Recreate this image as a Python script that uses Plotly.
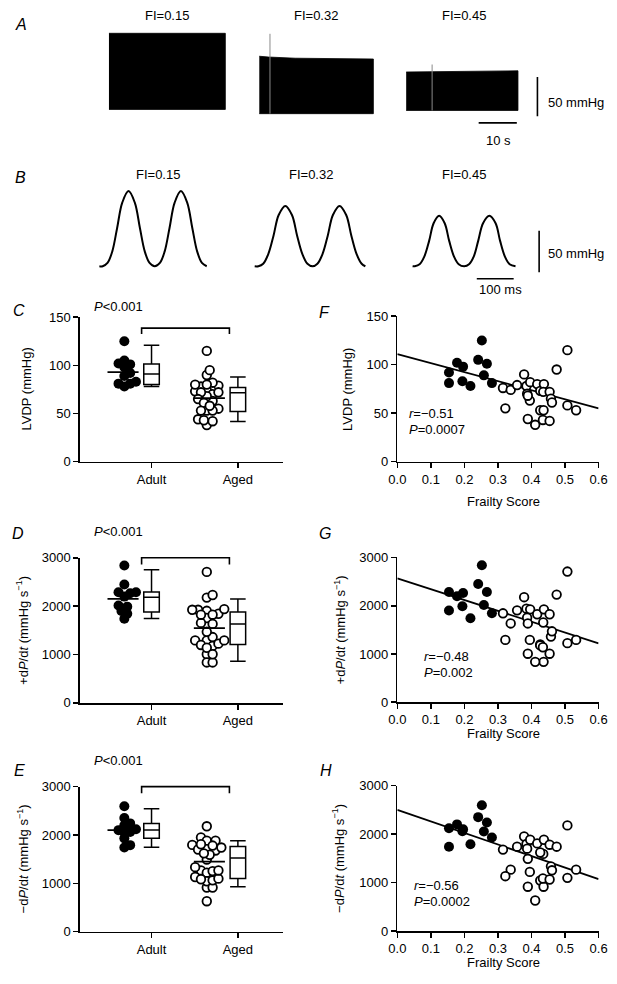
import plotly.graph_objects as go

W, H = 617, 984
FONT = "Liberation Sans, Arial, sans-serif"

# ---------------- DATA ----------------
fi_labels = ["FI=0.15", "FI=0.32", "FI=0.45"]

# Panel A: raw LV pressure recordings, drawn as envelopes (time s, pressure mmHg)
recA_t = [[26.2, 56.7], [65.6, 68.0, 75.0, 85.0, 95.5], [104.1, 112.0, 120.0, 133.4]]
recA_top = [[96.6, 96.6], [67.5, 66.5, 65.0, 64.5, 64.0], [47.5, 48.0, 48.5, 49.0]]
recA_bottom = [[0.0, 0.0], [-5.4, -5.4, -5.4, -5.4, -5.4], [-1.3, -1.3, -1.3, -1.3]]
spikeA_t = [68.4, 110.9]
spikeA_top = [96.0, 57.0]
spikeA_bottom = [-5.4, -1.3]
scaleA = [10, 50]          # s, mmHg

# Panel B: representative beats (time ms from trace start, pressure mmHg)
beat_t = [
    [0, 9, 22, 35, 48, 62, 79, 96, 110, 123, 136, 150, 164, 177, 190, 204, 221, 238, 252, 265, 278, 291],
    [0, 10, 23, 37, 51, 65, 83, 101, 115, 129, 143, 157, 170, 184, 198, 212, 230, 248, 262, 276, 290, 300],
    [0, 6, 19, 32, 45, 57, 72, 87, 99, 112, 125, 140, 153, 166, 178, 191, 208, 225, 237, 250, 263, 279]]
beat_p = [
    [0, 0, 4, 18, 46, 77, 91, 77, 46, 18, 4, 0, 4, 18, 46, 77, 91, 77, 46, 18, 4, 0],
    [0, 0, 3, 15, 37, 62, 73, 62, 37, 15, 3, 0, 3, 15, 37, 62, 73, 62, 37, 15, 3, 0],
    [0, 0, 2.5, 12, 31, 52, 61, 52, 31, 12, 2.5, 0, 2.5, 12, 31, 52, 61, 52, 31, 12, 2.5, 0]]
beat_start = [245, 666, 1094]   # ms
scaleB = [100, 50]              # ms, mmHg

groups = ["Adult", "Aged"]
adult_fi = [0.154, 0.154, 0.178, 0.196, 0.194, 0.218, 0.241, 0.252, 0.258, 0.267, 0.282]
adult_lvdp = [92, 81, 102, 98, 83, 78, 105, 125, 89, 101, 81]
adult_pos = [2286, 1900, 2197, 2265, 1990, 1741, 2449, 2840, 2014, 2286, 1844]
adult_neg = [2120, 1740, 2200, 2100, 2060, 1790, 2350, 2594, 2053, 2240, 1930]

aged_fi = [0.315, 0.338, 0.322, 0.357, 0.378, 0.385, 0.396, 0.387, 0.395, 0.389, 0.389, 0.417, 0.426,
           0.437, 0.435, 0.454, 0.458, 0.461, 0.426, 0.436, 0.411, 0.434, 0.454, 0.475, 0.507, 0.507, 0.533]
aged_lvdp = [76, 74, 55, 79, 90, 78, 82, 70, 63, 44, 68, 80, 73, 80, 72, 72, 65, 61, 53, 53, 38, 43, 42,
             95, 115, 58, 53]
aged_pos = [1843, 1633, 1292, 1904, 2177, 1939, 1925, 1755, 1292, 1006, 1633, 1823, 1198, 1925, 1653, 1823,
            1361, 1470, 1178, 837, 837, 1140, 1006, 2231, 2708, 1225, 1292]
aged_neg = [1680, 1266, 1131, 1740, 1950, 1795, 1883, 1700, 1220, 914, 1490, 1808, 1043, 1883, 1591, 1781,
            1334, 1253, 1620, 914, 630, 1084, 1063, 1740, 2180, 1097, 1266]

# box stats: [lower whisker, q1, median, q3, upper whisker]
boxC = [[78, 80, 91, 101.5, 121], [41.6, 52, 71.6, 77, 88]]
boxD = [[1745, 1880, 2185, 2295, 2750], [863, 1210, 1630, 1880, 2150]]
boxE = [[1745, 1930, 2105, 2235, 2540], [930, 1100, 1525, 1760, 1880]]
meanC = [93, 66]
meanD = [2150, 1545]
meanE = [2100, 1450]
bracketC = [138.7, 132.5]
bracketD = [3000, 2862]
bracketE = [3000, 2865]

fit_x = [0.0, 0.6]
fitF = [111, 55]
fitG = [2565, 1222]
fitH = [2500, 1070]
statsF = ["<i>r</i>=−0.51", "<i>P</i>=0.0007"]
statsG = ["<i>r</i>=−0.48", "<i>P</i>=0.002"]
statsH = ["<i>r</i>=−0.56", "<i>P</i>=0.0002"]

# ---------------- HELPERS ----------------
def xdom(l, r):
    return [l / W, r / W]

def ydom(top, bot):
    return [1 - bot / H, 1 - top / H]

fig = go.Figure()
annotations = []

def ann(text, px, py, size=13, xanchor="center", italic=False, angle=0):
    if italic:
        text = "<i>" + text + "</i>"
    annotations.append(dict(text=text, x=px / W, y=1 - py / H, xref="paper", yref="paper",
                            xanchor=xanchor, yanchor="middle", showarrow=False, textangle=angle,
                            font=dict(family=FONT, size=size, color="black")))

def line(xs, ys, ax, width=1.6, color="black", shape="linear"):
    fig.add_trace(go.Scatter(x=xs, y=ys, mode="lines", xaxis="x" + ax, yaxis="y" + ax,
                             line=dict(color=color, width=width, shape=shape, smoothing=1.0),
                             hoverinfo="skip", showlegend=False))

def swarm(vals, center, ypu, xpu=89.0, d=6.0):
    idx = sorted(range(len(vals)), key=lambda i: vals[i])
    placed = []
    xs = [0.0] * len(vals)
    cands = [0]
    for s in range(1, 30):
        cands += [s, -s]
    for i in idx:
        yp = vals[i] * ypu
        off = 0.0
        for c in cands:
            off = c * d * 0.5
            if all((off - xo) ** 2 + (yp - yo) ** 2 >= (d * 0.95) ** 2 for xo, yo in placed):
                break
        placed.append((off, yp))
        xs[i] = center + off / xpu
    return xs

axis_common = dict(showline=True, linecolor="black", linewidth=1.6, ticks="outside", ticklen=5,
                   tickwidth=1.6, tickcolor="black", showgrid=False, zeroline=False,
                   ticklabeloverflow="allow",
                   tickfont=dict(family=FONT, size=13, color="black"), fixedrange=True)
hidden = dict(visible=False, showgrid=False, zeroline=False, fixedrange=True)
layout_axes = {}

# ---------------- PANEL A ----------------
for t, top, bot in zip(recA_t, recA_top, recA_bottom):
    fig.add_trace(go.Scatter(x=t + t[::-1], y=top + bot[::-1], mode="lines", fill="toself",
                             fillcolor="black", line=dict(color="black", width=0.8),
                             xaxis="x", yaxis="y", hoverinfo="skip", showlegend=False))
for t, a, b in zip(spikeA_t, spikeA_top, spikeA_bottom):
    line([t, t], [a, b], "", width=1.0, color="#8a8a8a")
line([138.5, 138.5], [-8.75, -8.75 + scaleA[1]], "", width=1.6)
line([133.1 - scaleA[0], 133.1], [-17.1, -17.1], "", width=1.6)
layout_axes["xaxis"] = dict(domain=[0, 1], range=[0, W / 3.93], anchor="y", **hidden)
layout_axes["yaxis"] = dict(domain=ydom(0, 150), range=[-57.5, 130], anchor="x", **hidden)

# ---------------- PANEL B ----------------
for t, p, s in zip(beat_t, beat_p, beat_start):
    line([s + v for v in t], p, "2", width=2.0, shape="spline")
line([1437, 1437], [-7.1, -7.1 + scaleB[1]], "2", width=1.6)
line([1268, 1268 + scaleB[0]], [-15.1, -15.1], "2", width=1.6)
layout_axes["xaxis2"] = dict(domain=[0, 1], range=[0, W / 0.38], anchor="y2", **hidden)
layout_axes["yaxis2"] = dict(domain=ydom(160, 292), range=[-34.2, 123], anchor="x2", **hidden)

# ---------------- PANELS C, D, E (dot + box) ----------------
dot_specs = [
    ("3", "9", 315.0, 461.7, 150, [0, 50, 100, 150], adult_lvdp, aged_lvdp, boxC, meanC, bracketC),
    ("4", "10", 559.3, 706.7, 3000, [0, 1000, 2000, 3000], adult_pos, aged_pos, boxD, meanD, bracketD),
    ("5", "11", 791.7, 939.0, 3000, [0, 1000, 2000, 3000], adult_neg, aged_neg, boxE, meanE, bracketE),
]
dot_centers = [0.685, 1.64]
mean_centers = [0.67, 1.67]
for ax, bax, top, bot, ymax, ytv, adv, agv, box, mean, br in dot_specs:
    ypu = (bot - top) / ymax
    for k, (vals, filled) in enumerate([(adv, True), (agv, False)]):
        xs = swarm(vals, dot_centers[k], ypu)
        st = box[k]
        fig.add_trace(go.Box(x=[1 + k], lowerfence=[st[0]], q1=[st[1]], median=[st[2]], q3=[st[3]],
                             upperfence=[st[4]], width=0.18, whiskerwidth=1, boxpoints=False,
                             orientation="v",
                             fillcolor="white", line=dict(color="black", width=1.5),
                             xaxis="x" + ax, yaxis="y" + ax, hoverinfo="skip", showlegend=False))
        fig.add_trace(go.Scatter(
            x=xs, y=vals, mode="markers", xaxis="x" + ax, yaxis="y" + ax, cliponaxis=False,
            marker=dict(size=10 if filled else 8.6, color="black" if filled else "white",
                        line=dict(color="black", width=0 if filled else 1.8)),
            hoverinfo="skip", showlegend=False))
        c = mean_centers[k]
        line([c - 0.18, c + 0.18], [mean[k], mean[k]], ax, width=1.8)
    # bracket on an extended hidden axis with identical scale
    ext = 30.0
    line([0.885, 0.885, 1.902, 1.902], [br[1], br[0], br[0], br[1]], bax, width=1.6)
    layout_axes["xaxis" + ax] = dict(domain=xdom(73, 282), range=[0.17, 2.52], anchor="y" + ax,
                                     type="linear", tickvals=[1, 2], ticktext=groups, **axis_common)
    layout_axes["yaxis" + ax] = dict(domain=ydom(top, bot), range=[0, ymax], anchor="x" + ax,
                                     type="linear", tickvals=ytv, **axis_common)
    layout_axes["xaxis" + bax] = dict(domain=xdom(73, 282), range=[0.17, 2.52], anchor="y" + bax, **hidden)
    layout_axes["yaxis" + bax] = dict(domain=ydom(top - ext, bot), range=[0, ymax + ext / ypu],
                                      anchor="x" + bax, **hidden)

# ---------------- PANELS F, G, H (scatter) ----------------
sc_specs = [
    ("6", 314.0, 461.7, 150, [0, 50, 100, 150], adult_lvdp, aged_lvdp, fitF),
    ("7", 559.0, 706.0, 3000, [0, 1000, 2000, 3000], adult_pos, aged_pos, fitG),
    ("8", 790.7, 938.3, 3000, [0, 1000, 2000, 3000], adult_neg, aged_neg, fitH),
]
for ax, top, bot, ymax, ytv, adv, agv, fit in sc_specs:
    line(fit_x, fit, ax, width=1.8)
    fig.add_trace(go.Scatter(x=adult_fi, y=adv, mode="markers", xaxis="x" + ax, yaxis="y" + ax,
                             cliponaxis=False, marker=dict(size=10, color="black"),
                             hoverinfo="skip", showlegend=False))
    fig.add_trace(go.Scatter(x=aged_fi, y=agv, mode="markers", xaxis="x" + ax, yaxis="y" + ax,
                             cliponaxis=False,
                             marker=dict(size=8.6, color="white", line=dict(color="black", width=1.8)),
                             hoverinfo="skip", showlegend=False))
    layout_axes["xaxis" + ax] = dict(domain=xdom(400, 607.3), range=[0, 0.6], anchor="y" + ax,
                                     tickvals=[0, 0.1, 0.2, 0.3, 0.4, 0.5, 0.6], tickformat=".1f",
                                     **axis_common)
    layout_axes["yaxis" + ax] = dict(domain=ydom(top, bot), range=[0, ymax], anchor="x" + ax,
                                     tickvals=ytv, **axis_common)

# ---------------- TEXT ----------------
for lab, (px, py) in zip(["A", "B", "C", "D", "E", "F", "G", "H"],
                         [(12, 18), (12, 173), (10, 308), (9, 535), (11, 775),
                          (325, 310), (325, 535), (327, 775)]):
    ann(lab, px, py, size=16, italic=True)

for lab, px in zip(fi_labels, [162.8, 316.6, 468.8]):
    ann(lab, px, 8.5)
for lab, px in zip(fi_labels, [153.8, 310.7, 468.8]):
    ann(lab, px, 170)
ann("50 mmHg", 553, 97, xanchor="left")
ann("10 s", 504, 136)
ann("50 mmHg", 553, 250, xanchor="left")
ann("100 ms", 506, 287)

for py in [304, 533, 765]:
    ann("<i>P</i><0.001", 85, py, xanchor="left")

ann("LVDP (mmHg)", 18, 388, angle=-90)
ann("+d<i>P</i>/d<i>t</i> (mmHg s<sup>−1</sup>)", 14, 633, angle=-90)
ann("−d<i>P</i>/d<i>t</i> (mmHg s<sup>−1</sup>)", 14, 865, angle=-90)
ann("LVDP (mmHg)", 348, 388, angle=-90)
ann("+d<i>P</i>/d<i>t</i> (mmHg s<sup>−1</sup>)", 341, 633, angle=-90)
ann("−d<i>P</i>/d<i>t</i> (mmHg s<sup>−1</sup>)", 339, 865, angle=-90)
for py in [502, 738, 970]:
    ann("Frailty Score", 509, py)

for st, (px, py) in zip([statsF, statsG, statsH], [(410, 413), (425, 660), (415, 892)]):
    ann(st[0], px, py, xanchor="left")
    ann(st[1], px, py + 16, xanchor="left")

fig.update_layout(width=W, height=H, margin=dict(l=0, r=0, t=0, b=0),
                  paper_bgcolor="white", plot_bgcolor="rgba(0,0,0,0)", showlegend=False,
                  font=dict(family=FONT, size=13, color="black"),
                  annotations=annotations, **layout_axes)

# remove the browser's default 8px page margin so the figure fills the window exactly
fig.write_html("out.html", config={"displayModeBar": False, "staticPlot": True},
               post_script="document.body.style.margin='0px';")
